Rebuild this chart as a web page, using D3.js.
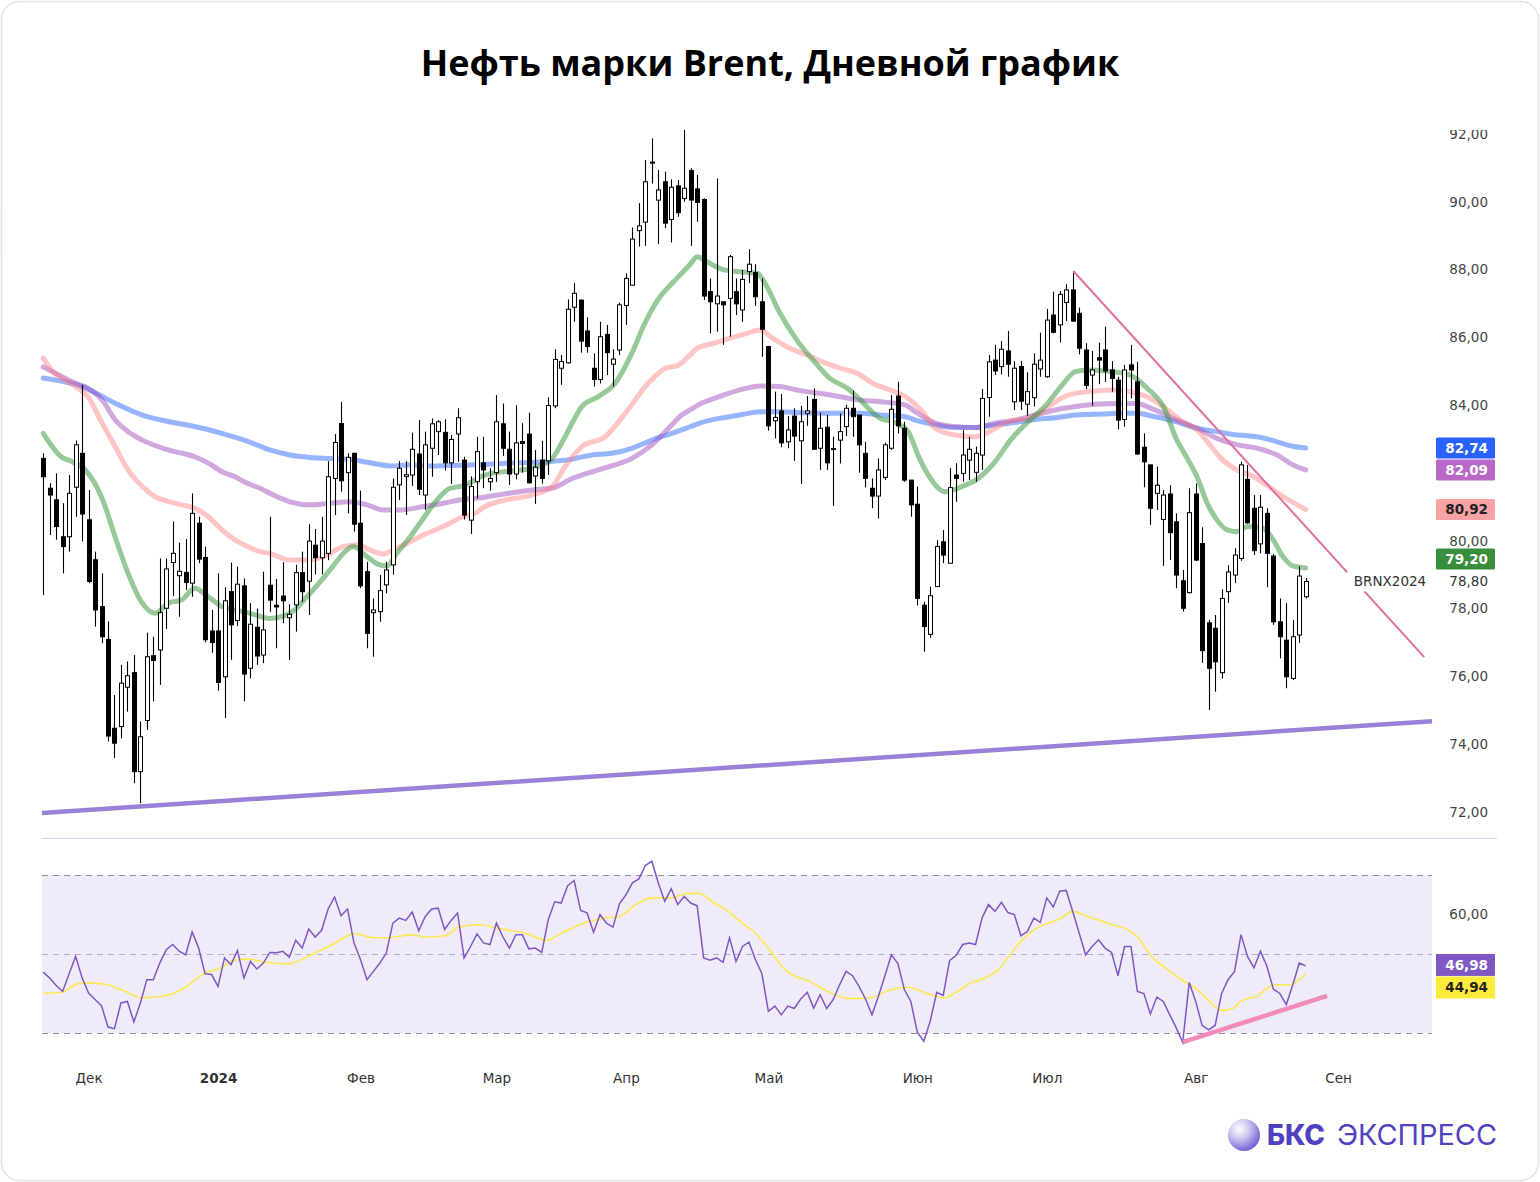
<!DOCTYPE html>
<html><head><meta charset="utf-8">
<script src="https://cdn.jsdelivr.net/npm/d3@7"></script>
<style>body{margin:0;background:#fff;} svg{display:block}</style>
</head><body>
<svg id="c" width="1540" height="1182"></svg>
<script>
// ---------- DATA ----------
const openP = [82.43,81.55,81.21,80.12,80.12,81.58,82.58,80.62,79.44,78.06,
77.09,74.47,74.52,75.68,76.11,73.19,74.70,76.61,76.78,78.01,
79.36,78.97,79.07,78.75,80.52,79.51,77.34,77.34,75.99,78.50,
77.65,78.67,76.24,77.45,76.63,78.69,78.10,78.37,77.73,78.11,
79.06,78.81,79.87,79.50,79.63,81.84,83.46,82.01,82.58,80.52,
79.09,77.88,77.91,78.70,79.29,81.65,81.90,81.94,82.56,81.35,
82.73,83.22,83.20,82.30,83.15,82.38,80.61,81.74,82.30,81.74,
82.01,83.45,82.70,81.97,82.93,83.15,81.91,82.38,82.36,83.98,
85.09,85.25,86.89,87.10,86.19,85.09,84.76,86.09,85.21,85.63,
86.94,87.54,89.15,89.40,91.15,90.05,90.59,89.48,90.47,90.10,
90.92,90.38,90.07,87.35,86.99,87.05,87.15,87.35,86.81,87.94,
87.91,87.05,85.73,83.54,83.83,82.92,83.68,82.95,83.76,84.17,
82.73,83.35,82.70,82.97,83.37,83.91,83.71,82.58,81.55,81.32,
81.87,82.73,84.27,83.32,81.79,81.08,78.10,77.24,78.65,79.97,
79.34,81.94,81.99,82.38,82.02,82.53,84.23,85.33,85.14,85.60,
84.10,85.14,84.03,84.22,85.07,84.84,86.66,86.37,87.03,87.40,
86.71,85.63,84.89,85.40,85.63,85.04,84.74,83.58,85.19,84.69,
82.76,82.24,81.40,80.63,81.38,80.56,78.82,78.47,81.38,79.92,
77.58,77.42,76.11,78.50,78.99,79.48,81.81,80.96,79.91,80.81,
79.55,77.61,77.07,75.94,77.22,78.35];
const highP = [82.58,81.70,81.99,81.11,81.94,82.96,84.60,81.50,79.68,79.04,
77.62,75.45,76.34,76.44,76.63,74.67,77.29,77.17,79.48,79.48,
80.57,79.95,80.05,81.40,80.71,79.83,77.96,79.04,78.63,79.36,
79.24,78.89,78.16,78.00,79.09,80.71,78.87,79.37,78.13,79.29,
79.68,80.49,80.35,80.71,82.35,83.15,84.10,82.58,82.60,81.48,
79.38,78.30,78.99,79.38,81.84,82.35,82.35,83.19,83.56,83.22,
83.61,83.56,83.58,83.12,83.91,82.48,81.90,83.07,83.07,82.14,
84.30,84.05,83.22,84.00,83.47,83.78,82.68,82.95,84.23,85.65,
85.48,87.12,87.61,87.12,86.59,85.53,86.46,86.37,85.65,87.03,
87.89,89.24,89.96,91.23,91.87,90.94,90.89,90.66,90.64,92.12,
90.99,90.79,90.10,87.74,90.69,87.05,88.43,87.74,87.99,88.60,
88.16,87.74,85.75,84.40,84.33,83.68,83.91,83.98,84.27,84.50,
83.78,83.71,83.07,83.76,84.01,84.43,83.71,82.92,81.84,82.43,
82.90,84.30,84.69,83.51,81.79,81.60,78.20,78.65,80.02,80.32,
82.14,82.29,83.27,83.07,82.78,84.48,85.48,85.78,85.89,86.19,
85.30,85.30,84.97,85.53,86.14,86.84,87.35,87.37,87.57,87.92,
86.88,85.83,85.60,85.85,86.32,85.30,84.84,85.19,85.78,85.28,
83.17,82.24,82.19,81.50,81.64,80.81,79.14,81.55,81.69,80.40,
77.67,77.81,78.57,79.28,79.78,82.33,82.24,81.35,81.35,80.96,
79.61,78.30,78.17,77.66,79.24,78.90];
const lowP = [78.40,80.17,80.03,79.04,79.68,80.71,79.98,78.75,77.47,76.98,
74.08,73.59,74.17,74.96,72.85,72.26,74.42,75.26,75.75,77.40,
78.37,77.76,78.55,78.35,79.34,77.00,76.70,75.58,74.77,76.49,
77.49,75.26,75.94,76.34,76.39,77.91,76.83,77.57,76.48,77.32,
78.20,77.81,79.01,79.01,79.43,80.76,81.45,80.81,80.27,78.60,
76.83,76.58,77.61,78.45,79.00,81.20,80.76,81.62,81.35,80.91,
81.89,82.53,82.07,81.68,82.33,80.63,80.20,81.25,81.55,81.48,
81.74,82.50,81.65,81.81,82.01,81.69,81.09,81.69,81.94,83.91,
84.60,85.23,86.46,85.55,85.55,84.55,84.64,84.89,84.55,85.48,
86.37,87.53,88.68,88.70,90.54,88.75,89.22,88.80,89.56,90.00,
88.70,89.41,87.10,86.12,86.17,85.78,86.02,86.66,86.46,87.60,
86.93,85.43,83.25,83.02,82.76,82.73,82.36,81.68,83.39,82.68,
82.09,82.09,81.03,82.28,83.09,83.07,82.01,81.58,80.96,80.66,
81.79,82.68,83.17,81.74,80.71,78.09,76.73,77.14,78.65,79.34,
79.34,81.15,81.74,81.79,81.74,82.09,83.66,84.89,84.91,84.84,
83.86,83.86,83.69,83.96,84.84,84.81,86.12,85.85,86.48,86.46,
85.50,84.48,83.99,84.62,84.69,84.40,83.29,83.37,84.20,82.53,
81.58,80.47,80.91,79.26,79.43,78.60,77.91,78.45,79.41,76.40,
75.01,75.55,75.94,78.17,78.75,79.41,80.51,79.58,79.63,78.63,
77.52,76.53,75.65,75.89,76.99,78.30];
const closeP = [81.89,81.35,80.42,79.83,81.40,82.83,80.79,78.80,77.96,77.17,
74.24,74.03,75.80,76.02,73.19,74.22,76.58,76.47,77.88,79.17,
79.63,79.10,78.77,80.81,79.46,77.08,77.00,75.82,78.23,77.52,
78.72,76.07,77.54,76.60,77.37,78.25,78.05,78.23,77.83,79.06,
78.50,79.99,79.50,79.99,81.89,82.90,81.77,82.46,80.49,78.67,
77.27,77.96,78.53,79.14,81.58,82.14,81.95,82.70,81.52,82.83,
83.45,83.51,82.30,82.99,83.63,80.76,81.60,82.63,82.09,81.84,
83.51,82.73,81.97,82.89,82.87,81.71,82.17,81.84,83.99,85.35,
85.29,86.83,87.30,85.89,85.73,84.76,86.02,85.55,85.36,86.96,
87.74,88.90,89.29,90.59,91.17,90.35,89.37,90.43,89.68,90.40,
90.05,89.98,87.22,87.05,87.22,86.96,88.38,86.99,87.71,88.16,
87.20,86.24,83.39,83.64,82.89,83.27,83.09,83.51,83.83,82.70,
83.32,82.30,82.72,83.22,83.91,83.66,82.83,81.84,81.32,82.09,
82.83,83.88,83.39,81.79,81.06,78.30,77.47,78.38,79.83,79.58,
81.57,81.84,82.53,82.70,82.58,84.20,85.28,85.01,85.65,85.21,
85.09,84.12,84.40,85.21,85.33,86.51,86.15,87.27,87.40,86.48,
85.68,84.58,85.04,85.33,85.01,84.79,83.56,85.04,85.04,82.56,
82.33,80.96,81.64,81.35,80.24,78.99,78.01,80.83,79.43,76.76,
76.24,76.43,78.30,79.08,79.58,82.24,80.53,79.71,80.99,79.63,
77.61,77.17,75.99,77.17,78.96,78.80];

// moving averages: [candle index, value]
const ma20 = [[0,83.17],[2.9,82.46],[4.4,82.34],[6.5,82.09],[9.1,81.25],[11.1,80.12],[13.1,79.04],[15.3,78.16],[17.3,77.86],[19.3,78.16],[21.4,78.26],[23.4,78.6],[25.5,78.35],[27.6,78.06],[29.6,77.96],[31.6,77.88],[35,77.71],[38.1,77.86],[41.2,78.45],[44.3,79.14],[46.9,79.73],[47.9,79.83],[50,79.53],[51.6,79.32],[53.1,79.26],[54.6,79.63],[56.7,80.12],[58.7,80.66],[60.8,81.2],[62.8,81.55],[64.8,81.62],[68.2,81.94],[71.3,82.04],[75.5,82.14],[78.6,82.43],[80.6,83.07],[83.2,83.96],[85.7,84.25],[88.3,84.64],[90.9,85.53],[92.9,86.41],[94.9,87.1],[97.6,87.69],[99.9,88.15],[101,88.38],[102.5,88.23],[105,88.0],[107.6,87.94],[110.3,87.89],[111.2,87.69],[113.8,86.71],[116.4,85.92],[118.9,85.33],[121.5,84.79],[124.2,84.5],[125.7,84.25],[127.7,83.86],[129.3,83.61],[131.3,83.51],[133.6,83.22],[135.1,82.53],[136.7,81.94],[139.3,81.45],[141.9,81.6],[144.4,81.84],[147,82.33],[149.6,83.02],[152.1,83.51],[154.7,83.96],[157.4,84.6],[159.4,84.99],[161.4,85.04],[164,85.01],[167.9,84.89],[170.5,84.5],[173,83.96],[175.1,82.97],[176.7,82.43],[178.2,81.89],[179.8,81.1],[181.3,80.61],[182.9,80.32],[184.4,80.27],[186,80.42],[188.4,80.37],[190,80.02],[191.5,79.53],[193,79.26],[195,79.2]];
const ma50 = [[0,85.39],[1.3,85.04],[5,84.55],[6.9,84.25],[9.1,83.47],[11.1,82.78],[13.1,82.09],[15.3,81.6],[17.3,81.3],[19.3,81.16],[21.4,81.06],[23.4,80.96],[25.5,80.71],[27.6,80.32],[29.6,80.03],[31.6,79.83],[33.5,79.68],[35,79.63],[38.1,79.43],[41.2,79.43],[43.8,79.58],[46.3,79.83],[48.5,79.88],[50.5,79.73],[52.5,79.61],[54,79.73],[56.2,79.93],[58.7,80.17],[61.8,80.42],[64.8,80.71],[66.7,80.81],[68.2,81.01],[71.3,81.2],[75.5,81.35],[78.6,81.6],[80.6,82.19],[83.2,82.78],[86.8,83.07],[89.9,83.76],[93.4,84.64],[96.1,85.09],[98.1,85.18],[99.9,85.48],[101,85.68],[103.5,85.82],[106,85.97],[108.7,86.12],[110.7,86.22],[112.7,85.97],[115.3,85.68],[118,85.48],[120.4,85.28],[123.1,85.09],[125.7,84.94],[128.2,84.64],[130.8,84.45],[133.6,84.2],[135.8,83.81],[137.8,83.32],[140.8,83.12],[143.9,83.07],[146.6,83.27],[149,83.51],[152.1,83.61],[154.3,83.81],[156.3,84.1],[158.3,84.3],[161.4,84.4],[164.8,84.45],[167.9,84.4],[170.5,84.25],[173,83.96],[175.6,83.56],[178.2,83.27],[180.2,82.83],[182.2,82.38],[184.4,82.09],[186.4,81.94],[189,81.64],[191.5,81.3],[193.7,81.06],[195,80.92]];
const ma100 = [[0,85.13],[5,84.65],[6.9,84.5],[9.1,84.16],[11.1,83.57],[13.1,83.22],[15.3,82.97],[19.3,82.68],[23.4,82.48],[25.5,82.29],[27.6,82.04],[29.6,81.89],[31.6,81.69],[33.5,81.55],[35,81.4],[38.1,81.15],[41.2,81.06],[44.3,81.11],[47.4,81.15],[50,81.06],[52.5,80.91],[55.1,80.91],[58.7,81.01],[61.8,81.11],[64.8,81.22],[66.7,81.25],[70.2,81.35],[75.5,81.5],[78.6,81.55],[81.7,81.84],[85.7,82.09],[88.3,82.24],[90.9,82.43],[94,82.83],[97.1,83.42],[98.6,83.71],[99.9,83.86],[101.2,84.01],[104.4,84.25],[107.6,84.45],[110.7,84.57],[113.8,84.55],[116.9,84.43],[120,84.35],[123.1,84.25],[126.2,84.15],[129.3,84.1],[133.1,84.01],[134.7,83.81],[137.8,83.47],[140.8,83.37],[143.9,83.34],[147,83.47],[150.1,83.56],[153.2,83.71],[156.3,83.86],[159.4,83.96],[162.5,84.03],[166.3,84.05],[168.8,84.05],[171.7,83.86],[175.1,83.56],[178.2,83.32],[181.3,83.02],[184.4,82.83],[187.5,82.73],[190.6,82.53],[193,82.24],[195,82.09]];
const ma200 = [[0,84.8],[6,84.55],[11.1,84.06],[15.3,83.71],[19.3,83.52],[23.4,83.37],[27.6,83.17],[31.6,82.93],[35,82.68],[38.1,82.53],[41.2,82.46],[44.3,82.43],[47.4,82.4],[50.5,82.3],[53.6,82.21],[56.7,82.24],[59.7,82.21],[62.8,82.22],[66.7,82.24],[71.3,82.29],[77.5,82.33],[80.6,82.38],[84.8,82.53],[87.8,82.58],[90.9,82.73],[94,82.97],[97.1,83.17],[98.6,83.27],[101.2,83.46],[104.4,83.61],[107.6,83.71],[110.7,83.81],[113.8,83.81],[116.9,83.78],[120,83.76],[126.2,83.76],[129.3,83.71],[133.1,83.66],[134.7,83.56],[137.8,83.42],[140.8,83.34],[143.9,83.34],[147,83.42],[150.1,83.49],[153.2,83.58],[156.3,83.63],[159.4,83.71],[162.5,83.73],[166.3,83.76],[168.8,83.76],[171.7,83.66],[175.1,83.51],[178.2,83.32],[181.3,83.22],[184.4,83.12],[187.5,83.07],[190.6,82.92],[193,82.79],[195,82.74]];

const rsi = [45.4,43.9,42.0,40.5,45.0,49.4,44.0,40.1,38.5,36.9,
31.5,31.1,37.6,38.0,32.8,37.6,43.5,43.5,47.7,51.1,
52.4,50.7,49.8,55.6,51.5,45.0,44.8,41.8,49.0,47.3,
50.9,43.9,48.1,46.2,47.7,50.4,50.3,50.7,49.2,53.5,
51.5,56.3,54.3,56.0,61.4,64.4,59.7,61.4,52.8,48.6,
43.5,45.6,47.7,50.3,57.8,59.1,58.5,60.6,55.9,59.5,
61.4,61.6,56.2,58.5,60.4,49.0,51.9,55.1,52.8,52.4,
57.8,54.3,51.5,54.9,54.9,51.3,51.5,50.4,58.7,63.2,
62.9,67.3,68.6,61.0,60.4,55.5,60.0,57.8,56.8,62.7,
65.0,68.0,69.0,72.4,73.5,68.0,63.3,66.5,62.5,64.6,
62.9,62.2,49.0,48.4,49.0,47.9,54.1,48.1,51.9,53.0,
48.6,45.0,35.5,36.8,34.6,36.8,36.2,38.6,40.3,36.3,
39.7,36.2,38.4,42.2,45.6,44.5,41.8,38.6,34.6,39.3,
44.5,49.8,47.6,41.0,38.0,30.2,27.9,33.0,40.3,39.5,
48.4,49.6,52.4,52.8,52.4,59.1,62.5,60.8,63.1,60.5,
60.0,54.6,55.7,59.1,58.0,64.2,61.9,65.9,66.1,60.8,
55.3,49.8,51.9,53.6,51.5,50.4,44.5,51.9,51.9,40.5,
40.0,34.8,39.1,38.0,34.6,31.3,27.6,42.8,38.0,31.9,
30.8,31.9,40.0,43.5,45.6,54.9,49.4,46.5,50.7,46.9,
41.1,40.0,37.2,42.2,47.7,46.98];
const rsiMa = [[0,40.0],[2.9,40.3],[5.4,42.5],[7.1,42.7],[9.9,42.2],[12.7,40.5],[15.2,38.9],[19,39.5],[21.8,41.4],[25,45.2],[27.1,46.2],[29.5,48.4],[31.6,48.7],[34.4,47.9],[37.9,47.5],[41.4,49.8],[44.9,52.6],[48,55.1],[51.2,54.1],[53.3,54.1],[56.8,54.9],[58.9,54.3],[62.1,54.6],[64.2,56.8],[67.3,57.4],[70.8,56.3],[74.3,55.3],[77.8,53.5],[79.9,55.1],[83.4,57.8],[86.9,59.1],[89,59.5],[91.1,62.1],[94.2,64.2],[96.7,64.2],[99.5,65.3],[101.2,65.4],[103.6,62.9],[105.8,60.8],[107.9,57.8],[109.7,55.7],[111.8,51.9],[113.9,47.3],[115.2,45.2],[118.1,43.2],[122.3,39.7],[124.4,38.7],[127.9,39.0],[130.7,40.8],[133.5,41.6],[136.3,40.1],[139.1,38.9],[141.2,40.5],[143.3,42.7],[145.4,43.9],[147.5,46.0],[149.6,50.3],[151,53.2],[153.1,56.2],[155.2,57.8],[157.3,59.1],[159,60.8],[160.8,59.8],[162.8,58.7],[165.6,57.2],[167.7,56.0],[169.1,54.1],[171.2,49.4],[173.3,46.5],[176.2,43.1],[178.3,41.0],[180.4,37.6],[182.1,35.7],[183.9,36.3],[184.9,38.0],[187.4,39.3],[190.2,42.2],[192.6,42.2],[194,43.5],[195,44.94]];

const supportLine = [[-0.2,71.97],[214.5,74.68]];
const resistLine = [[159.1,87.96],[213.3,76.57]];
const rsiTrend = [[176.0,27.7],[198.3,39.4]];

const monthLabels = ["Дек","2024","Фев","Мар","Апр","Май","Июн","Июл","Авг","Сен"];
const monthIdx = [7,27,49,70,90,112,135,155,178,200];
const priceTicks = [72,74,76,78,80,84,86,88,90,92];
const rsiTicks = [60];
const maTags = [82.74, 82.09, 80.92, 79.20];
const rsiTags = [46.98, 44.94];

// ---------- DRAW ----------
const FONT = "'DejaVu Sans', Verdana, sans-serif";
const svg = d3.select("#c");
svg.append("rect").attr("x",1.5).attr("y",1.5).attr("width",1537).attr("height",1179)
  .attr("rx",18).attr("fill","#fff").attr("stroke","#e3e3e3").attr("stroke-width",1.5);

const x = d3.scaleLinear().domain([-0.5, 214.5]).range([40, 1432]);
const y = d3.scaleLinear().domain([72, 92]).range([812, 134]);
const yR = d3.scaleLinear().domain([30, 70]).range([1033, 875]);
const fmt = d3.formatLocale({decimal:",",thousands:" ",grouping:[3],currency:["",""]}).format(".2f");

// title
svg.append("text").attr("x",770).attr("y",76).attr("text-anchor","middle")
  .attr("font-family","'Open Sans', 'Noto Sans', sans-serif").attr("font-weight",700)
  .attr("font-size",36).attr("fill","#000").text("Нефть марки Brent, Дневной график");

// support line
const lineP = d3.line().x(d=>x(d[0])).y(d=>y(d[1]));
svg.append("path").attr("d", lineP(supportLine)).attr("fill","none")
  .attr("stroke","#9a80d6").attr("stroke-width",4.5);

// moving averages
const maLine = d3.line().x(d=>x(d[0])).y(d=>y(d[1])).curve(d3.curveMonotoneX);
[[ma200,"#2f6bff",0.5],[ma100,"#a24fc0",0.5],[ma50,"#ff7d7d",0.45],[ma20,"#3f9a45",0.55]].forEach(([data,col,op])=>{
  svg.append("path").attr("d", maLine(data)).attr("fill","none").attr("stroke",col)
    .attr("stroke-opacity",op).attr("stroke-width",5).attr("stroke-linecap","round");
});

// candles
const idx = d3.range(closeP.length);
const cg = svg.append("g");
cg.selectAll("line").data(idx).join("line")
  .attr("x1", i=>Math.round(x(i))+0.5).attr("x2", i=>Math.round(x(i))+0.5)
  .attr("y1", i=>y(highP[i])).attr("y2", i=>y(lowP[i]))
  .attr("stroke","#000").attr("stroke-width",1.1);
cg.selectAll("rect").data(idx).join("rect")
  .attr("x", i=>Math.round(x(i))-1.5).attr("width",4)
  .attr("y", i=>y(Math.max(openP[i],closeP[i])))
  .attr("height", i=>Math.max(1, Math.abs(y(openP[i])-y(closeP[i]))))
  .attr("fill", i=> closeP[i] >= openP[i] ? "#fff" : "#000")
  .attr("stroke","#000").attr("stroke-width",1);

// resistance line
svg.append("path").attr("d", lineP(resistLine)).attr("fill","none")
  .attr("stroke","#e0709f").attr("stroke-width",2);

// BRNX label
svg.append("rect").attr("x",1347).attr("y",y(closeP[closeP.length-1])-10).attr("width",84).attr("height",20).attr("fill","#fff");
svg.append("text").attr("x",1390).attr("y",y(closeP[closeP.length-1])).attr("dy","0.35em")
  .attr("text-anchor","middle").attr("font-family",FONT).attr("font-size",13.5).attr("fill","#333").text("BRNX2024");

// price axis
svg.append("clipPath").attr("id","axclip").append("rect").attr("x",1400).attr("y",130).attr("width",140).attr("height",700);
const ya = svg.append("g").attr("clip-path","url(#axclip)").append("g").attr("transform","translate(1488,0)")
  .call(d3.axisLeft(y).tickValues(priceTicks).tickSize(0).tickPadding(0).tickFormat(fmt));
ya.select(".domain").remove();
ya.attr("font-family",FONT).attr("font-size",13.5);
ya.selectAll("text").attr("fill","#444");

// current price label
svg.append("text").attr("x",1488).attr("y",y(closeP[closeP.length-1])).attr("dy","0.35em")
  .attr("text-anchor","end").attr("font-family",FONT).attr("font-size",13.5).attr("fill","#333")
  .text(fmt(closeP[closeP.length-1]));

// MA tags
const tagStyle = [["#2962ff","#fff",0],["#ba68c8","#fff",0],["#f7a3a3","#222",0],["#388e3c","#fff",-9]];
maTags.forEach((v,k)=>{
  const [bg,fg,off] = tagStyle[k];
  const cy = y(v)+off;
  svg.append("rect").attr("x",1436).attr("y",cy-10.5).attr("width",59).attr("height",21).attr("fill",bg).attr("rx",1.5);
  svg.append("text").attr("x",1488).attr("y",cy).attr("dy","0.36em").attr("text-anchor","end")
    .attr("font-family",FONT).attr("font-size",13.5).attr("fill",fg).attr("font-weight",600).text(fmt(v));
});

// panel separator
svg.append("line").attr("x1",42).attr("x2",1497).attr("y1",838.5).attr("y2",838.5).attr("stroke","#d8d2ea").attr("stroke-width",1.2);

// RSI panel
svg.append("rect").attr("x",42).attr("y",yR(70)).attr("width",1390).attr("height",yR(30)-yR(70)).attr("fill","#efebf8");
[70,50,30].forEach(v=>{
  svg.append("line").attr("x1",42).attr("x2",1432).attr("y1",Math.round(yR(v))+0.5).attr("y2",Math.round(yR(v))+0.5)
    .attr("stroke", v===50 ? "#b3aec0" : "#8e8a98").attr("stroke-width",1.2).attr("stroke-dasharray","6,5");
});
const rsiLine = d3.line().x((d,i)=>x(i)).y(d=>yR(d));
const rsiMaLine = d3.line().x(d=>x(d[0])).y(d=>yR(d[1])).curve(d3.curveMonotoneX);
svg.append("path").attr("d", rsiMaLine(rsiMa)).attr("fill","none").attr("stroke","#fce94f").attr("stroke-width",1.6);
svg.append("path").attr("d", rsiLine(rsi)).attr("fill","none").attr("stroke","#7e57c2").attr("stroke-width",1.5);
const rsiTL = d3.line().x(d=>x(d[0])).y(d=>yR(d[1]));
svg.append("path").attr("d", rsiTL(rsiTrend)).attr("fill","none").attr("stroke","#f08cb7").attr("stroke-width",4.5);

// RSI axis
const ra = svg.append("g").attr("transform","translate(1488,0)")
  .call(d3.axisLeft(yR).tickValues(rsiTicks).tickSize(0).tickPadding(0).tickFormat(fmt));
ra.select(".domain").remove();
ra.attr("font-family",FONT).attr("font-size",13.5);
ra.selectAll("text").attr("fill","#444");
const rsiTagStyle = [["#7e57c2","#fff"],["#ffeb3b","#222"]];
rsiTags.forEach((v,k)=>{
  const cy = yR(rsiTags[0]) - 1 + k*22.5;
  svg.append("rect").attr("x",1436).attr("y",cy-11).attr("width",59).attr("height",22).attr("fill",rsiTagStyle[k][0]);
  svg.append("text").attr("x",1488).attr("y",cy).attr("dy","0.36em").attr("text-anchor","end")
    .attr("font-family",FONT).attr("font-size",13.5).attr("font-weight",600).attr("fill",rsiTagStyle[k][1]).text(fmt(v));
});

// x axis
const xa = svg.append("g").attr("transform","translate(0,1073)")
  .call(d3.axisBottom(x).tickValues(monthIdx).tickSize(0).tickPadding(0).tickFormat((d,i)=>monthLabels[i]));
xa.select(".domain").remove();
xa.attr("font-family",FONT).attr("font-size",13.5);
xa.selectAll("text").attr("fill","#333").attr("font-weight",(d,i)=> monthLabels[i]==="2024" ? "bold" : "normal");

// logo
const defs = svg.append("defs");
const gr = defs.append("radialGradient").attr("id","sph").attr("cx","35%").attr("cy","30%").attr("r","75%");
gr.append("stop").attr("offset","0%").attr("stop-color","#ffffff");
gr.append("stop").attr("offset","45%").attr("stop-color","#c9c3f0");
gr.append("stop").attr("offset","100%").attr("stop-color","#6a5acd");
svg.append("circle").attr("cx",1244).attr("cy",1135).attr("r",16).attr("fill","url(#sph)");
svg.append("text").attr("x",1267).attr("y",1145).attr("font-family","Inter, 'Open Sans', sans-serif")
  .attr("font-size",28).attr("font-weight",800).attr("fill","#4f41bf")
  .attr("textLength",58).attr("lengthAdjust","spacingAndGlyphs").text("БКС");
svg.append("text").attr("x",1337).attr("y",1145).attr("font-family","Inter, 'Open Sans', sans-serif")
  .attr("font-size",28).attr("font-weight",400).attr("fill","#4f41bf")
  .attr("textLength",160).attr("lengthAdjust","spacingAndGlyphs").text("ЭКСПРЕСС");
</script>
</body></html>
